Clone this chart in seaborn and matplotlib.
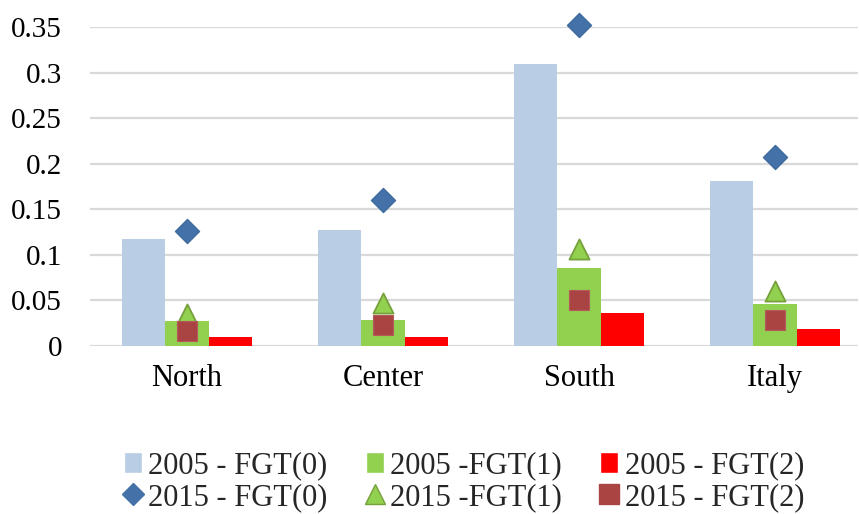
import numpy as np
import pandas as pd
import matplotlib
matplotlib.use("Agg")
import matplotlib.pyplot as plt
import seaborn as sns
from matplotlib.lines import Line2D
from matplotlib.patches import Patch

regions = ["North", "Center", "South", "Italy"]

fgt0_2005 = [0.117, 0.127, 0.309, 0.181]
fgt1_2005 = [0.027, 0.028, 0.086, 0.046]
fgt2_2005 = [0.010, 0.010, 0.036, 0.019]

fgt0_2015 = [0.126, 0.160, 0.352, 0.207]
fgt1_2015 = [0.035, 0.047, 0.106, 0.060]
fgt2_2015 = [0.016, 0.023, 0.050, 0.028]

bar_labels = ["2005 - FGT(0)", "2005 -FGT(1)", "2005 - FGT(2)"]
mark_labels = ["2015 - FGT(0)", "2015 -FGT(1)", "2015 - FGT(2)"]
yticks = [0, 0.05, 0.1, 0.15, 0.2, 0.25, 0.3, 0.35]
ytick_labels = ["0", "0.05", "0.1", "0.15", "0.2", "0.25", "0.3", "0.35"]

bar_colors = ["#B9CDE5", "#92D050", "#FF0000"]

sns.set_theme(style="white")
plt.rcParams["font.family"] = ["Liberation Serif", "DejaVu Serif"]

bars = pd.DataFrame({
    "region": regions * 3,
    "value": fgt0_2005 + fgt1_2005 + fgt2_2005,
    "series": [bar_labels[0]] * 4 + [bar_labels[1]] * 4 + [bar_labels[2]] * 4,
})

fig = plt.figure(figsize=(8.59, 5.14), dpi=100)
ax = fig.add_axes([90 / 859, 1 - 346 / 514, 768 / 859, (346 - 27) / 514])

for y in yticks:
    ax.axhline(y, color="#D9D9D9", lw=1.6, zorder=0)

sns.barplot(data=bars, x="region", y="value", hue="series", order=regions,
            hue_order=bar_labels, palette=bar_colors, width=0.667,
            saturation=1, ax=ax, legend=False, zorder=2, linewidth=0)

x = np.arange(len(regions))
ax.scatter(x, fgt0_2015, marker="D", s=150, color="#4472A8",
           edgecolor="#3E6A9E", zorder=5, clip_on=False)
ax.scatter(x, fgt1_2015, marker="^", s=210, color="#92D050",
           edgecolor="#76A03A", linewidth=1.3, zorder=5, clip_on=False)
ax.scatter(x, fgt2_2015, marker="s", s=190, color="#A94442",
           edgecolor="#B55A58", linewidth=0.8, zorder=6, clip_on=False)

ax.set_xlim(-0.495, 3.423)
ax.set_ylim(0, 0.35)
ax.set_yticks(yticks)
ax.set_yticklabels(ytick_labels)
ax.set_xlabel("")
ax.set_ylabel("")
for s in ax.spines.values():
    s.set_visible(False)
ax.tick_params(axis="y", length=0, labelsize=21, colors="black", pad=20)
ax.tick_params(axis="x", length=0, labelsize=22, colors="black", pad=13)

handles = [
    Patch(facecolor=bar_colors[0], label=bar_labels[0]),
    Line2D([], [], marker="D", ls="", color="#4472A8", markersize=11, label=mark_labels[0]),
    Patch(facecolor=bar_colors[1], label=bar_labels[1]),
    Line2D([], [], marker="^", ls="", markerfacecolor="#92D050",
           markeredgecolor="#76A03A", markersize=15, label=mark_labels[1]),
    Patch(facecolor=bar_colors[2], label=bar_labels[2]),
    Line2D([], [], marker="s", ls="", color="#A94442", markersize=15, label=mark_labels[2]),
]
fig.legend(handles=handles, ncol=3, loc="center", bbox_to_anchor=(0.54, 0.063),
           frameon=False, fontsize=22, handlelength=0.6, handleheight=0.7,
           handletextpad=0.2, columnspacing=1.25, labelspacing=0.1,
           borderpad=0)

fig.savefig("out.png", dpi=100)
